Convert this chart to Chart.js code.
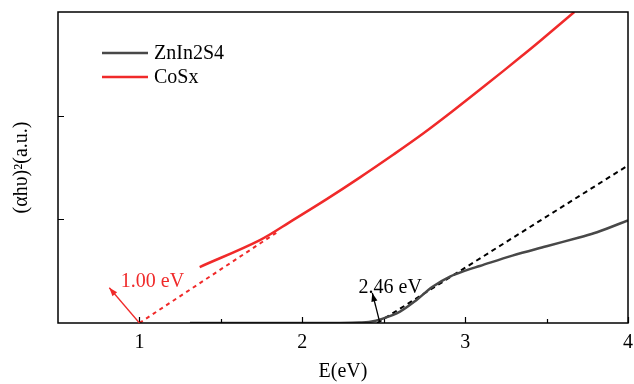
<!DOCTYPE html>
<html>
<head>
<meta charset="utf-8">
<script src="https://cdn.jsdelivr.net/npm/chart.js@4"></script>
<style>
  html, body { margin: 0; padding: 0; background: #fff; }
  #myChart { display: block; }
</style>
</head>
<body>
<canvas id="myChart" width="634" height="384"></canvas>
<script>
// photon energy (eV) and (ahv)^2
const znE = [1.31, 1.8, 2.2, 2.35, 2.41, 2.49, 2.6, 2.7, 2.8, 2.91, 3.01, 3.09, 3.29, 3.5, 3.7, 3.81, 4.0];
const znY = [0, 0, 0, 0.005, 0.01, 0.04, 0.11, 0.22, 0.35, 0.45, 0.51, 0.55, 0.65, 0.74, 0.825, 0.875, 0.99];

const coE = [1.37, 1.74, 1.94, 2.15, 2.35, 2.56, 2.74, 2.92, 3.13, 3.34, 3.46, 3.67];
const coY = [0.54, 0.80, 0.99, 1.195, 1.40, 1.625, 1.825, 2.04, 2.30, 2.565, 2.72, 3.0];

// tangent lines used for the band gap
const coFitE = [1.0, 1.84];
const coFitY = [0, 0.87];
const znFitE = [2.46, 3.99];
const znFitY = [0, 1.51];

const xTicks = [1, 2, 3, 4];
const xMinor = [1.5, 2.5, 3.5];
const yTicks = [1, 2];

const gapLabels = ['1.00 eV', '2.46 eV'];

const toPts = (xs, ys) => xs.map((x, i) => ({ x: x, y: ys[i] }));

const FONT = '"Liberation Serif", "Times New Roman", serif';
const RED = 'rgb(240,42,42)';
const GREY = 'rgb(72,72,72)';

// box, inner ticks, legend and the band gap arrows
const decorations = {
  id: 'decorations',
  afterDatasetsDraw(chart) {
    const ctx = chart.ctx;
    const a = chart.chartArea;
    const xs = chart.scales.x, ys = chart.scales.y;
    ctx.save();
    ctx.strokeStyle = '#000';
    ctx.lineWidth = 1.5;
    ctx.strokeRect(a.left, a.top, a.right - a.left, a.bottom - a.top);

    ctx.lineWidth = 1.2;
    ctx.beginPath();
    xTicks.forEach(v => {
      const px = Math.round(xs.getPixelForValue(v)) + 0.5;
      ctx.moveTo(px, a.bottom); ctx.lineTo(px, a.bottom - 6);
    });
    xMinor.forEach(v => {
      const px = Math.round(xs.getPixelForValue(v)) + 0.5;
      ctx.moveTo(px, a.bottom); ctx.lineTo(px, a.bottom - 4);
    });
    yTicks.forEach(v => {
      const py = Math.round(ys.getPixelForValue(v)) + 0.5;
      ctx.moveTo(a.left, py); ctx.lineTo(a.left + 6, py);
    });
    ctx.stroke();

    // legend
    ctx.font = '20px ' + FONT;
    ctx.textBaseline = 'middle';
    ctx.textAlign = 'left';
    [[0, 53], [1, 77]].forEach(([i, y]) => {
      const ds = chart.data.datasets[i];
      ctx.strokeStyle = ds.borderColor;
      ctx.lineWidth = 2.5;
      ctx.beginPath();
      ctx.moveTo(102, y); ctx.lineTo(148, y);
      ctx.stroke();
      ctx.fillStyle = '#000';
      ctx.fillText(ds.label, 154, y + 1);
    });

    const arrow = (x0, y0, x1, y1, color) => {
      const p0 = [xs.getPixelForValue(x0), ys.getPixelForValue(y0)];
      const p1 = [xs.getPixelForValue(x1), ys.getPixelForValue(y1)];
      const ang = Math.atan2(p1[1] - p0[1], p1[0] - p0[0]);
      ctx.strokeStyle = color;
      ctx.fillStyle = color;
      ctx.lineWidth = 1.3;
      ctx.beginPath();
      ctx.moveTo(p0[0], p0[1]); ctx.lineTo(p1[0], p1[1]);
      ctx.stroke();
      ctx.beginPath();
      ctx.moveTo(p1[0], p1[1]);
      ctx.lineTo(p1[0] - 9 * Math.cos(ang - 0.35), p1[1] - 9 * Math.sin(ang - 0.35));
      ctx.lineTo(p1[0] - 9 * Math.cos(ang + 0.35), p1[1] - 9 * Math.sin(ang + 0.35));
      ctx.closePath();
      ctx.fill();
    };
    arrow(1.0, 0, 0.815, 0.34, RED);
    arrow(2.475, 0.01, 2.43, 0.29, '#000');

    ctx.textAlign = 'center';
    ctx.fillStyle = RED;
    ctx.fillText(gapLabels[0], xs.getPixelForValue(1.08), ys.getPixelForValue(0.40));
    ctx.fillStyle = '#000';
    ctx.fillText(gapLabels[1], xs.getPixelForValue(2.54), ys.getPixelForValue(0.34));
    ctx.restore();
  }
};

const ctx = document.getElementById('myChart').getContext('2d');
const myChart = new Chart(ctx, {
  type: 'scatter',
  data: {
    datasets: [
      {
        label: 'ZnIn2S4',
        data: toPts(znE, znY),
        showLine: true,
        borderColor: GREY,
        borderWidth: 2.5,
        pointRadius: 0,
        tension: 0.35
      },
      {
        label: 'CoSx',
        data: toPts(coE, coY),
        showLine: true,
        borderColor: RED,
        borderWidth: 2.5,
        pointRadius: 0,
        tension: 0.35
      },
      {
        label: 'fit CoSx',
        data: toPts(coFitE, coFitY),
        showLine: true,
        borderColor: RED,
        borderWidth: 2,
        borderDash: [4, 4],
        pointRadius: 0
      },
      {
        label: 'fit ZnIn2S4',
        data: toPts(znFitE, znFitY),
        showLine: true,
        borderColor: '#000',
        borderWidth: 2,
        borderDash: [5, 4],
        pointRadius: 0
      }
    ]
  },
  options: {
    responsive: false,
    animation: false,
    layout: { padding: { top: 12, right: 6 } },
    plugins: {
      legend: { display: false },
      tooltip: { enabled: false }
    },
    scales: {
      x: {
        type: 'linear',
        min: 0.5,
        max: 4,
        afterFit: s => { s.height = 61; s.paddingRight = 0; s.paddingLeft = 0; },
        afterBuildTicks: s => { s.ticks = xTicks.map(v => ({ value: v })); },
        grid: { display: false, drawTicks: false },
        border: { display: false },
        ticks: { color: '#000', padding: 8, font: { family: FONT, size: 20 } },
        title: {
          display: true,
          text: 'E(eV)',
          color: '#000',
          padding: { top: 0, bottom: 0 },
          font: { family: FONT, size: 20 }
        }
      },
      y: {
        type: 'linear',
        min: 0,
        max: 3,
        afterFit: s => { s.width = 58; },
        grid: { display: false, drawTicks: false },
        border: { display: false },
        ticks: { display: false },
        title: {
          display: true,
          text: '(\u03b1h\u03c5)\u00b2(a.u.)',
          color: '#000',
          padding: { top: 10, bottom: 0 },
          font: { family: FONT, size: 20 }
        }
      }
    }
  },
  plugins: [decorations]
});
</script>
</body>
</html>
